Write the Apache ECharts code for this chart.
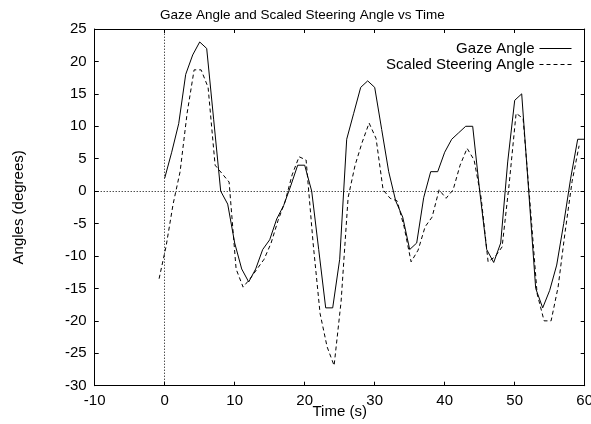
<!DOCTYPE html>
<html>
<head>
<meta charset="utf-8">
<script src="https://cdn.jsdelivr.net/npm/echarts@6/dist/echarts.min.js"></script>
<style>html,body{margin:0;padding:0;background:#fff}#c{width:591px;height:424px}</style>
</head>
<body>
<div id="c"></div>
<script>
var titleText = 'Gaze Angle and Scaled Steering Angle vs Time';
var xName = 'Time (s)';
var yName = 'Angles (degrees)';
var seriesNames = ['Gaze Angle', 'Scaled Steering Angle'];

var gazeTime = [0,1,2,3,4,5,6,7,8,9,10,11,12,13,14,15,16,17,18,19,20,21,22,23,24,25,26,27,28,29,30,31,32,33,34,35,36,37,38,39,40,41,42,43,44,45,46,47,48,49,50,51,52,53,54,55,56,57,58,59,60];
var gazeAngle = [2,6,10.4,18,21,23,22,11,0,-2,-8,-12,-14,-12,-9,-7.5,-4.3,-2.2,0.8,4,4,0,-9,-18,-18,-10.5,8,12,16,17,16,9.5,3,-1.5,-4,-9,-8,-1,3,3,6,8,9,10,10,0,-9,-11,-8,4.5,14,15,0,-15,-18,-15.3,-11.4,-5,2,8,8];

var steerTime = [-0.8,0.2,1.2,2.2,3.2,4.2,5.2,6.2,7.2,8.2,9.2,10.2,11.2,12.2,13.2,14.2,15.2,16.2,17.2,18.2,19.2,20.2,21.2,22.2,23.2,24.2,25.2,26.2,27.2,28.2,29.2,30.2,31.2,32.2,33.2,34.2,35.2,36.2,37.2,38.2,39.2,40.2,41.2,42.2,43.2,44.2,45.2,46.2,47.2,48.2,49.2,50.2,51.2,52.2,53.2,54.2,55.2,56.2,57.2,58.2,59.2];
var steerAngle = [-13.5,-8.5,-2,3,12,18.7,18.7,16,4,2.7,1.4,-12,-14.8,-13.5,-12,-10.5,-8,-4.5,-1.6,2.5,5.3,4.8,-8,-18.9,-24,-26.9,-17,-1,4,7.5,10.5,8.1,0.2,-1.1,-1.5,-5.5,-10.9,-9.1,-5.5,-4,0.2,-1.1,0.2,4,6.6,4.8,-1,-10.9,-10.1,-8.6,1,12,11.2,-2,-15.8,-20,-20,-14.8,-6.3,1.5,7];

var xMin = -10, xMax = 60, xStep = 10;
var yMin = -30, yMax = 25, yStep = 5;

function pairs(a, b) { return a.map(function (v, i) { return [v, b[i]]; }); }

var FONT = 'Liberation Sans, Arial, sans-serif';
var chart = echarts.init(document.getElementById('c'), null, {renderer: 'canvas'});
var axisCommon = {
  axisLine: {show: true, onZero: false, lineStyle: {color: '#000', width: 1}},
  axisTick: {show: true, inside: true, length: 4, lineStyle: {color: '#000'}},
  splitLine: {show: false}
};
var hiddenSymbol = {color: 'rgba(0,0,0,0)', borderColor: 'rgba(0,0,0,0)', borderWidth: 0, opacity: 0};
var legendText = {fontFamily: FONT, fontSize: 15, color: '#000'};
chart.setOption({
  animation: false,
  backgroundColor: '#fff',
  title: {
    text: titleText, left: 160, top: 8, padding: 0,
    textStyle: {fontFamily: FONT, fontSize: 13.5, fontWeight: 'normal', color: '#000'}
  },
  legend: [
    {data: [seriesNames[0]], orient: 'vertical', align: 'right', right: 19, top: 41, padding: 0,
     itemWidth: 32, itemHeight: 10, itemStyle: hiddenSymbol, lineStyle: {width: 1},
     textStyle: legendText},
    {data: [seriesNames[1]], orient: 'vertical', align: 'right', right: 19, top: 57, padding: 0,
     itemWidth: 32, itemHeight: 10, itemStyle: hiddenSymbol, lineStyle: {width: 1},
     textStyle: legendText}
  ],
  grid: {left: 94.7, right: 6.3, top: 29, bottom: 38.3, containLabel: false, outerBoundsMode: 'none'},
  xAxis: [
    Object.assign({}, axisCommon, {
      type: 'value', min: xMin, max: xMax, interval: xStep, position: 'bottom',
      name: xName, nameLocation: 'middle', nameGap: 19, nameMoveOverlap: false,
      nameTextStyle: {fontFamily: FONT, fontSize: 15, color: '#000'},
      axisLabel: {fontFamily: FONT, fontSize: 15, color: '#000', margin: 8}
    }),
    Object.assign({}, axisCommon, {
      type: 'value', min: xMin, max: xMax, interval: xStep, position: 'top',
      axisLabel: {show: false}
    })
  ],
  yAxis: [
    Object.assign({}, axisCommon, {
      type: 'value', min: yMin, max: yMax, interval: yStep, position: 'left',
      name: yName, nameLocation: 'middle', nameGap: 68, nameRotate: 90, nameMoveOverlap: false,
      nameTextStyle: {fontFamily: FONT, fontSize: 15, color: '#000'},
      axisLabel: {fontFamily: FONT, fontSize: 15, color: '#000', margin: 8}
    }),
    Object.assign({}, axisCommon, {
      type: 'value', min: yMin, max: yMax, interval: yStep, position: 'right',
      axisLabel: {show: false}
    })
  ],
  series: [
    {
      name: seriesNames[0], type: 'line', data: pairs(gazeTime, gazeAngle),
      showSymbol: false, symbol: 'none', color: '#000',
      lineStyle: {color: '#000', width: 1},
      markLine: {
        silent: true, symbol: 'none', label: {show: false},
        lineStyle: {color: '#000', width: 1, type: [1, 2]},
        data: [{xAxis: 0}, {yAxis: 0}]
      },
      z: 3
    },
    {
      name: seriesNames[1], type: 'line', data: pairs(steerTime, steerAngle),
      showSymbol: false, symbol: 'none', color: '#000',
      lineStyle: {color: '#000', width: 1, type: [4, 3]},
      z: 3
    }
  ]
});
</script>
</body>
</html>
